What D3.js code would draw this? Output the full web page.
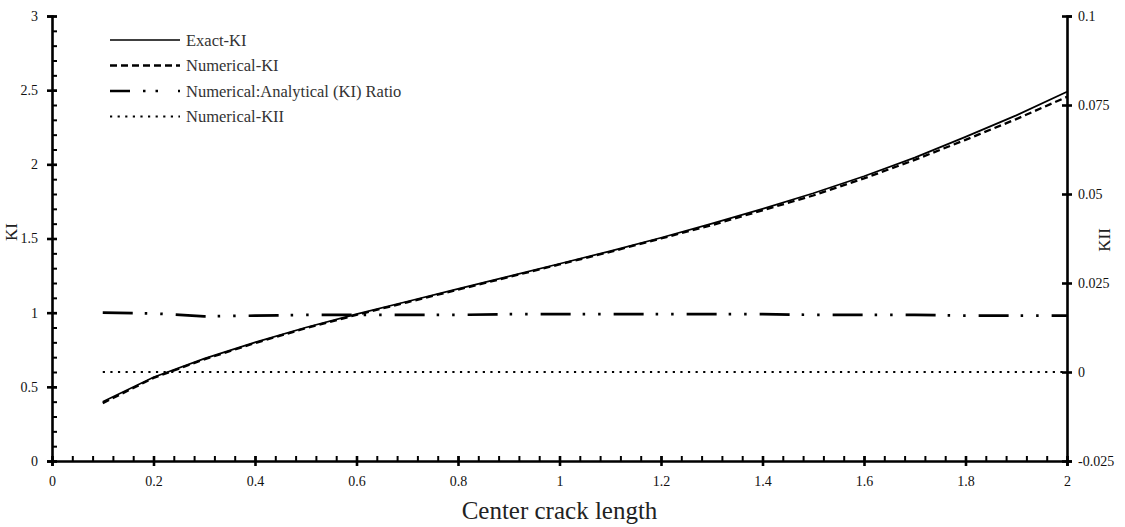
<!DOCTYPE html>
<html>
<head>
<meta charset="utf-8">
<script src="https://cdn.jsdelivr.net/npm/d3@7"></script>
<style>
  body { margin: 0; background: #fff; }
  svg { display: block; font-family: "Liberation Serif", "Times New Roman", serif; }
  .tick text { fill: #111; }
</style>
</head>
<body>
<div id="vis"></div>
<script>
const FRAME_WIDTH = 1125;
const FRAME_HEIGHT = 527;
const MARGINS = {left: 52, right: 58, top: 16, bottom: 66};

const VIS_WIDTH = FRAME_WIDTH - MARGINS.left - MARGINS.right;
const VIS_HEIGHT = FRAME_HEIGHT - MARGINS.top - MARGINS.bottom;

// data
const crackLength = [0.1, 0.2, 0.3, 0.4, 0.5, 0.6, 0.7, 0.8, 0.9, 1.0,
                     1.1, 1.2, 1.3, 1.4, 1.5, 1.6, 1.7, 1.8, 1.9, 2.0];
const exactKI = [0.40, 0.565, 0.69, 0.80, 0.90, 0.99, 1.075, 1.16, 1.245, 1.33,
                 1.415, 1.505, 1.60, 1.70, 1.805, 1.92, 2.045, 2.185, 2.33, 2.49];
const numericalKI = [0.39, 0.56, 0.685, 0.795, 0.895, 0.985, 1.07, 1.155, 1.24, 1.325,
                     1.41, 1.50, 1.59, 1.69, 1.79, 1.905, 2.03, 2.165, 2.305, 2.455];
const ratioKI = [1.0, 0.995, 0.975, 0.98, 0.985, 0.985, 0.985, 0.985, 0.99, 0.99,
                 0.99, 0.99, 0.99, 0.99, 0.985, 0.985, 0.985, 0.98, 0.98, 0.98];
const numericalKII = [0, 0, 0, 0, 0, 0, 0, 0, 0, 0,
                      0, 0, 0, 0, 0, 0, 0, 0, 0, 0];

const xTicks = [0, 0.2, 0.4, 0.6, 0.8, 1, 1.2, 1.4, 1.6, 1.8, 2];
const yLeftTicks = [0, 0.5, 1, 1.5, 2, 2.5, 3];
const yRightTicks = [-0.025, 0, 0.025, 0.05, 0.075, 0.1];

const legendNames = ["Exact-KI", "Numerical-KI", "Numerical:Analytical (KI) Ratio", "Numerical-KII"];

const SVG = d3.select("#vis")
  .append("svg")
    .attr("width", FRAME_WIDTH)
    .attr("height", FRAME_HEIGHT);

const G = SVG.append("g")
  .attr("transform", "translate(" + MARGINS.left + "," + MARGINS.top + ")");

const X_SCALE = d3.scaleLinear().domain([0, 2]).range([0, VIS_WIDTH]);
const Y_LEFT = d3.scaleLinear().domain([0, 3]).range([VIS_HEIGHT, 0]);
const Y_RIGHT = d3.scaleLinear().domain([-0.025, 0.1]).range([VIS_HEIGHT, 0]);

// series
const series = [
  {y: exactKI, scale: Y_LEFT, dash: null, width: 1.7},
  {y: numericalKI, scale: Y_LEFT, dash: "7,4", width: 2.3},
  {y: ratioKI, scale: Y_LEFT, dash: "30,12,2.5,13,2.5,13", width: 2.7},
  {y: numericalKII, scale: Y_RIGHT, dash: "2.2,5.4", width: 2.2}
];

series.forEach((s) => {
  const line = d3.line()
    .x((d, i) => X_SCALE(crackLength[i]))
    .y((d) => s.scale(d));
  G.append("path")
    .datum(s.y)
    .attr("d", line)
    .attr("fill", "none")
    .attr("stroke", "#000")
    .attr("stroke-width", s.width)
    .attr("stroke-dasharray", s.dash);
});

// minor ticks (inside)
const xMinor = d3.range(0, 51).map((i) => i * 0.04);
G.append("g")
  .attr("transform", "translate(0," + VIS_HEIGHT + ")")
  .call(d3.axisTop(X_SCALE).tickValues(xMinor).tickSize(5).tickFormat(""))
  .call((g) => g.select(".domain").remove())
  .selectAll("line").attr("stroke-width", 2);

const yMinor = d3.range(0, 31).map((i) => i * 0.1);
G.append("g")
  .call(d3.axisRight(Y_LEFT).tickValues(yMinor).tickSize(5).tickFormat(""))
  .call((g) => g.select(".domain").remove())
  .selectAll("line").attr("stroke-width", 2);

// main axes, ticks crossing the line
const X_AXIS = G.append("g")
  .attr("transform", "translate(0," + VIS_HEIGHT + ")")
  .call(d3.axisBottom(X_SCALE).tickValues(xTicks).tickSize(5).tickPadding(10).tickFormat((d) => String(d)))
  .attr("font-size", "14px");

const YL_AXIS = G.append("g")
  .call(d3.axisLeft(Y_LEFT).tickValues(yLeftTicks).tickSize(5).tickPadding(9).tickFormat((d) => String(d)))
  .attr("font-size", "14px");

const YR_AXIS = G.append("g")
  .attr("transform", "translate(" + VIS_WIDTH + ",0)")
  .call(d3.axisRight(Y_RIGHT).tickValues(yRightTicks).tickSize(5).tickPadding(6).tickFormat((d) => String(d)))
  .attr("font-size", "14px");

[X_AXIS, YL_AXIS, YR_AXIS].forEach((ax) => {
  ax.select(".domain").attr("stroke-width", 2.6);
  ax.selectAll(".tick line").attr("stroke-width", 2.6);
  ax.attr("font-family", null);
});
X_AXIS.selectAll(".tick line").attr("y1", -5);
YL_AXIS.selectAll(".tick line").attr("x1", 5);
YR_AXIS.selectAll(".tick line").attr("x1", -5);

// axis titles
SVG.append("text")
  .attr("x", MARGINS.left + VIS_WIDTH / 2)
  .attr("y", 519)
  .attr("text-anchor", "middle")
  .attr("font-size", "25px")
  .attr("fill", "#222")
  .text("Center crack length");

SVG.append("text")
  .attr("transform", "translate(17,232) rotate(-90)")
  .attr("text-anchor", "middle")
  .attr("font-size", "17px")
  .attr("fill", "#222")
  .text("KI");

SVG.append("text")
  .attr("transform", "translate(1110,240) rotate(-90)")
  .attr("text-anchor", "middle")
  .attr("font-size", "17px")
  .attr("fill", "#222")
  .text("KII");

// legend
const LEGEND = SVG.append("g").attr("transform", "translate(110,40)");
legendNames.forEach((name, i) => {
  const row = LEGEND.append("g").attr("transform", "translate(0," + (i * 25.5) + ")");
  row.append("line")
    .attr("x1", 0).attr("x2", 70)
    .attr("y1", 0).attr("y2", 0)
    .attr("stroke", "#000")
    .attr("stroke-width", series[i].width)
    .attr("stroke-dasharray", i === 2 ? "20,13,2.5,10,2.5,20" : series[i].dash);
  row.append("text")
    .attr("x", 76)
    .attr("y", 0)
    .attr("dy", "0.35em")
    .attr("font-size", "16.5px")
    .attr("fill", "#333")
    .text(name);
});
</script>
</body>
</html>
